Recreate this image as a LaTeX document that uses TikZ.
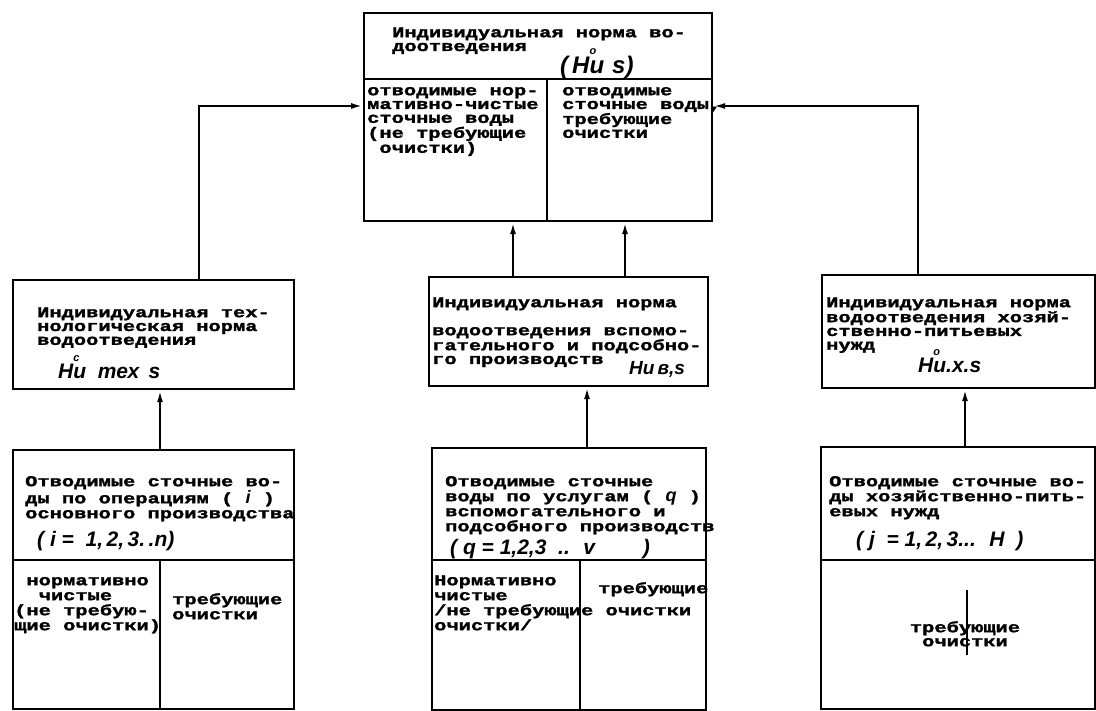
\documentclass[tikz,border=0pt]{standalone}
\usepackage{fontspec}
\usetikzlibrary{arrows.meta}
\newfontfamily\twfont{Liberation Mono}[FakeStretch=1.36, BoldFeatures={FakeBold=1.8}]
\newfontfamily\hwfont{Liberation Sans}
\newcommand{\hwr}[1]{{\hwfont\itshape\bfseries\fontsize{18}{18}\selectfont #1}}
\tikzset{
  box/.style={draw, line width=2.2pt, rectangle, inner sep=0pt, anchor=north west},
  sep/.style={line width=2.2pt},
  arr/.style={line width=2.2pt, -{Latex[length=12pt,width=6pt]}},
  txt/.style={font=\twfont\bfseries\fontsize{15}{13.8}\selectfont, align=left, inner sep=0pt, anchor=north west},
  btxt/.style={font=\twfont\bfseries\fontsize{15}{15}\selectfont, align=left, inner sep=0pt, anchor=north west},
  ctxt/.style={font=\twfont\bfseries\fontsize{15}{14}\selectfont, align=center, inner sep=0pt, anchor=north},
  hw/.style={font=\hwfont\itshape\bfseries\fontsize{21}{21}\selectfont, inner sep=0pt, anchor=base west},
}
\newcommand{\fl}{\rule{0pt}{12pt}}
\newcommand{\ring}[1]{\rlap{\raisebox{1.55ex}{\fontsize{11}{11}\selectfont #1}}}
\begin{document}
\begin{tikzpicture}[x=1pt,y=-1pt]
\useasboundingbox (0,0) rectangle (1096,711);
% boxes
\node[box, minimum width=348pt, minimum height=208pt] (T) at (363,12) {};
\node[box, minimum width=281pt, minimum height=109pt] (ML) at (12,279) {};
\node[box, minimum width=279pt, minimum height=109pt] (MC) at (428,276) {};
\node[box, minimum width=273pt, minimum height=113pt] (MR) at (821,274) {};
\node[box, minimum width=281pt, minimum height=259pt] (BL) at (12,449) {};
\node[box, minimum width=274pt, minimum height=262pt] (BC) at (431,447) {};
\node[box, minimum width=274pt, minimum height=262pt] (BR) at (820,446) {};
% internal lines
\coordinate (td) at (547,79);
\draw[sep] (T.west |- td) -- (T.east |- td);
\draw[sep] (td) -- (T.south -| td);
\coordinate (bld) at (160,560);
\draw[sep] (BL.west |- bld) -- (BL.east |- bld);
\draw[sep] (bld) -- (BL.south -| bld);
\coordinate (bcd) at (580,560);
\draw[sep] (BC.west |- bcd) -- (BC.east |- bcd);
\draw[sep] (bcd) -- (BC.south -| bcd);
\coordinate (brd) at (967,560);
\draw[sep] (BR.west |- brd) -- (BR.east |- brd);
\coordinate (st1) at (967,590);
\coordinate (st2) at (967,655);
\draw[line width=1.2pt] (st1) -- (st2);
% connectors
\coordinate (lc) at (199,106);
\coordinate (rc) at (918,106);
\draw[arr] (ML.north -| lc) |- (T.west |- lc);
\draw[arr] (MR.north -| rc) |- (T.east |- rc);
\coordinate (m1) at (513,0);
\coordinate (m2) at (625,0);
\draw[arr] (MC.north -| m1) -- (T.south -| m1);
\draw[arr] (MC.north -| m2) -- (T.south -| m2);
\coordinate (b1) at (160,0);
\coordinate (b2) at (587,0);
\coordinate (b3) at (965,0);
\draw[arr] (BL.north -| b1) -- (ML.south -| b1);
\draw[arr] (BC.north -| b2) -- (MC.south -| b2);
\draw[arr] (BR.north -| b3) -- (MR.south -| b3);
% top box texts
\node[txt] (t1) at (392,25) {\fl Индивидуальная норма во-\\доотведения};
\node[hw, font=\hwfont\itshape\bfseries\fontsize{24}{24}\selectfont] (t2) at (560,74) {(\,Н\ring{o}и\,\,s)};
\node[txt] (t3) at (367,83) {\fl отводимые нор-\\мативно-чистые\\сточные воды\\(не требующие\\\ очистки)};
\node[txt] (t4) at (562,83) {\fl отводимые\\сточные воды,\\требующие\\очистки};
% middle row
\node[txt] (l1) at (37,305) {\fl Индивидуальная тех-\\нологическая норма\\водоотведения};
\node[hw] (l2) at (58,379) {Н\ring{c}и \ тех\, s};
\node[txt] (c1) at (432,295) {\fl Индивидуальная норма};
\node[txt] (c2) at (432,323) {\fl водоотведения вспомо-\\гательного и подсобно-\\го производств};
\node[hw, font=\hwfont\itshape\bfseries\fontsize{19}{19}\selectfont] (c3) at (629,375) {Ни\,в,s};
\node[txt] (r1) at (826,295) {\fl Индивидуальная норма\\водоотведения хозяй-\\ственно-питьевых\\нужд};
\node[hw] (r2) at (918,373) {Н\ring{o}и.х.s};
% bottom left
\node[btxt] (bl1) at (25,474) {\fl Отводимые сточные во-\\ды по операциям ( \hwr{i} )\\основного производства};
\node[hw] (bl2) at (37,546) {( i = \ 1,\,2,\,3.\,.n)};
\node[btxt] (bl3) at (14,573) {\fl \ нормативно\\\ \ чистые\\(не требую-\\щие очистки)};
\node[btxt] (bl4) at (172,592) {\fl требующие\\очистки};
% bottom centre
\node[btxt] (bc1) at (445,474) {\fl Отводимые сточные\\воды по услугам ( \hwr{q} )\\вспомогательного и\\подсобного производств};
\node[hw] (bc2) at (450,554) {( q = 1,2,3 \ .. \ v \qquad )};
\node[btxt] (bc3) at (434,573) {\fl Нормативно\\чистые\\/не требующие очистки\\очистки/};
\node[btxt] (bc4) at (598,581) {\fl требующие};
% bottom right
\node[btxt] (br1) at (829,474) {\fl Отводимые сточные во-\\ды хозяйственно-пить-\\евых нужд};
\node[hw] (br2) at (856,546) {( j \ = 1,\,2,\,3... \ Н \ )};
\node[ctxt] (br3) at (965,620) {\fl требующие\\очистки};
\end{tikzpicture}
\end{document}
